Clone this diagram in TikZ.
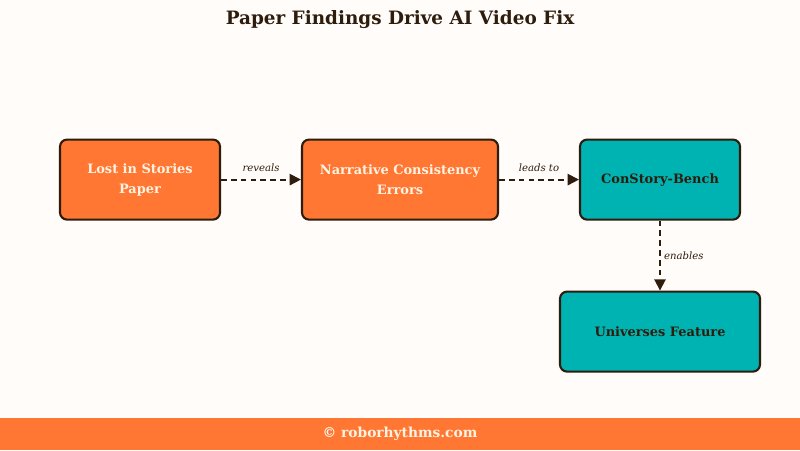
\documentclass[tikz,border=0pt]{standalone}
\usepackage{fontspec}
\setmainfont{DejaVu Serif}
\usepackage{xcolor}
\usetikzlibrary{positioning,arrows.meta}

\definecolor{bgcream}{HTML}{FFFCFA}
\definecolor{orng}{HTML}{FF7733}
\definecolor{teal2}{HTML}{00B3B3}
\definecolor{brn}{HTML}{2E1C0C}
\definecolor{crm}{HTML}{FFF3E2}

\begin{document}
\begin{tikzpicture}[
  cell/.style={draw=brn, line width=1.5pt, rounded corners=5pt, align=center,
               minimum height=20mm, font=\bfseries\fontsize{9.2}{14.2}\selectfont},
  hot/.style={cell, fill=orng, text=crm},
  cool/.style={cell, fill=teal2, text=brn},
  link/.style={draw=brn, line width=1.3pt, dash pattern=on 4pt off 3pt,
               -{Triangle[length=8pt,width=8pt]}},
  tag/.style={font=\itshape\fontsize{7.2}{9}\selectfont, text=brn},
]
\fill[bgcream] (0,0) rectangle (20,11.25);
\fill[orng] (0,0) rectangle (20,0.8);
\node[text=crm, font=\bfseries\fontsize{9.8}{12}\selectfont] (foot) at (10,0.4) {© roborhythms.com};
\node[text=brn, font=\bfseries\fontsize{13.1}{16}\selectfont] (title) at (10,10.75) {Paper Findings Drive AI Video Fix};

\node[hot, minimum width=40mm]  (paper) at (3.5,6.76)  {Lost in Stories\\Paper};
\node[hot, minimum width=49mm]  (errs)  at (10,6.76)   {Narrative Consistency\\Errors};
\node[cool, minimum width=40mm] (bench) at (16.5,6.76) {ConStory-Bench};
\node[cool, minimum width=50mm] (univ)  at (16.5,2.96) {Universes Feature};

\draw[link] (paper) -- node[tag, above=2pt] {reveals} (errs);
\draw[link] (errs) -- node[tag, above=2pt] {leads to} (bench);
\draw[link] (bench) -- node[tag, right=-1pt] {enables} (univ);
\end{tikzpicture}
\end{document}
